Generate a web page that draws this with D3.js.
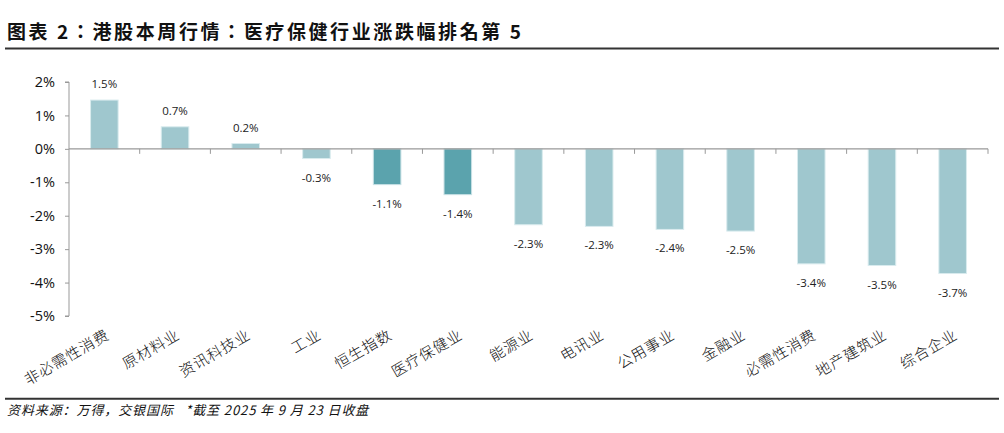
<!DOCTYPE html>
<html><head><meta charset="utf-8">
<script src="https://cdn.jsdelivr.net/npm/d3@7"></script>
<style>
body{margin:0;background:#fff;}
svg{display:block;}
</style></head>
<body>
<svg id="chart" width="1004" height="433"></svg>
<script>
const categories = ["非必需性消费","原材料业","资讯科技业","工业","恒生指数","医疗保健业","能源业","电讯业","公用事业","金融业","必需性消费","地产建筑业","综合企业"];
const values = [1.46, 0.66, 0.16, -0.29, -1.07, -1.37, -2.27, -2.32, -2.41, -2.46, -3.44, -3.49, -3.73];
const highlighted = ["恒生指数","医疗保健业"];
const yTicks = [2, 1, 0, -1, -2, -3, -4, -5];
const titleText = "图表 2：港股本周行情：医疗保健行业涨跌幅排名第 5";
const sourceText = "资料来源：万得，交银国际   *截至 2025 年 9 月 23 日收盘";

(function(){
const svg = d3.select("#chart");
const mLeft = 69, mRight = 988, mTop = 82, mBottom = 316;

const x = d3.scaleBand().domain(categories).range([mLeft, mRight]).paddingInner(0.61).paddingOuter(0.305);
const xb = d3.scaleBand().domain(categories).range([mLeft, mRight]);
const y = d3.scaleLinear().domain([-5, 2]).range([mBottom, mTop]);

// title
svg.append("text").attr("x", 7).attr("y", 39)
  .attr("font-family", "'Noto Sans CJK TC'").attr("font-weight", "bold")
  .attr("font-size", 19).attr("letter-spacing", 2.6).attr("fill", "#111").text(titleText);
svg.append("line").attr("x1", 5).attr("x2", 999).attr("y1", 48.5).attr("y2", 48.5)
  .attr("stroke", "#333").attr("stroke-width", 2.2);

// y axis
const yAxis = d3.axisLeft(y).tickValues(yTicks).tickSize(4).tickPadding(10).tickFormat(d => d + "%");
const gy = svg.append("g").attr("transform", `translate(${mLeft},0)`).call(yAxis);
gy.select(".domain").attr("stroke", "#999").attr("d", `M-4,${mTop}H0V${mBottom}H-4`);
gy.selectAll(".tick line").attr("stroke", "#999");
gy.selectAll(".tick text").attr("font-family", "'Open Sans', 'Noto Sans'").attr("font-size", 14.5).attr("fill", "#111");

// bars
svg.append("g").selectAll("rect").data(categories).join("rect")
  .attr("x", d => x(d))
  .attr("width", x.bandwidth())
  .attr("y", (d, i) => y(Math.max(0, values[i])))
  .attr("height", (d, i) => Math.abs(y(values[i]) - y(0)))
  .attr("fill", d => highlighted.includes(d) ? "#5BA3AD" : "#9FC7CE")
  .attr("stroke", d => highlighted.includes(d) ? "#C9E1E5" : "#D9EBEE")
  .attr("stroke-width", 1);

// x axis line and ticks at band boundaries
const y0 = y(0);
svg.append("line").attr("x1", mLeft).attr("x2", mRight).attr("y1", y0).attr("y2", y0)
  .attr("stroke", "#999").attr("stroke-width", 1.3);
svg.append("g").selectAll("line").data(categories.slice(1).concat(["__end"])).join("line")
  .attr("x1", d => d === "__end" ? mRight : xb(d)).attr("x2", d => d === "__end" ? mRight : xb(d))
  .attr("y1", y0).attr("y2", y0 + 5).attr("stroke", "#999").attr("stroke-width", 1);

// value labels
svg.append("g").selectAll("text").data(categories).join("text")
  .attr("x", d => x(d) + x.bandwidth() / 2)
  .attr("y", (d, i) => values[i] >= 0 ? y(values[i]) - 12 : y(values[i]) + 23)
  .attr("text-anchor", "middle")
  .attr("font-family", "'Open Sans', 'Noto Sans'").attr("font-size", 11.5).attr("fill", "#222")
  .text((d, i) => values[i].toFixed(1) + "%");

// category labels
svg.append("g").selectAll("text").data(categories).join("text")
  .attr("transform", d => `translate(${xb(d) + xb.bandwidth() / 2 + 6},${338}) rotate(-30)`)
  .attr("text-anchor", "end")
  .attr("font-family", "'Noto Sans CJK SC'").attr("font-size", 15).attr("font-weight", 300)
  .attr("letter-spacing", 0.8).attr("fill", "#111")
  .text(d => d);

// footer
svg.append("line").attr("x1", 5).attr("x2", 999).attr("y1", 398.7).attr("y2", 398.7)
  .attr("stroke", "#333").attr("stroke-width", 2);
svg.append("text").attr("x", 7).attr("y", 415)
  .attr("font-family", "'Noto Sans CJK SC'").attr("font-style", "italic")
  .attr("font-size", 13).attr("letter-spacing", 0.9).attr("fill", "#111")
  .style("white-space", "pre").text(sourceText);
})();
</script>
</body></html>
